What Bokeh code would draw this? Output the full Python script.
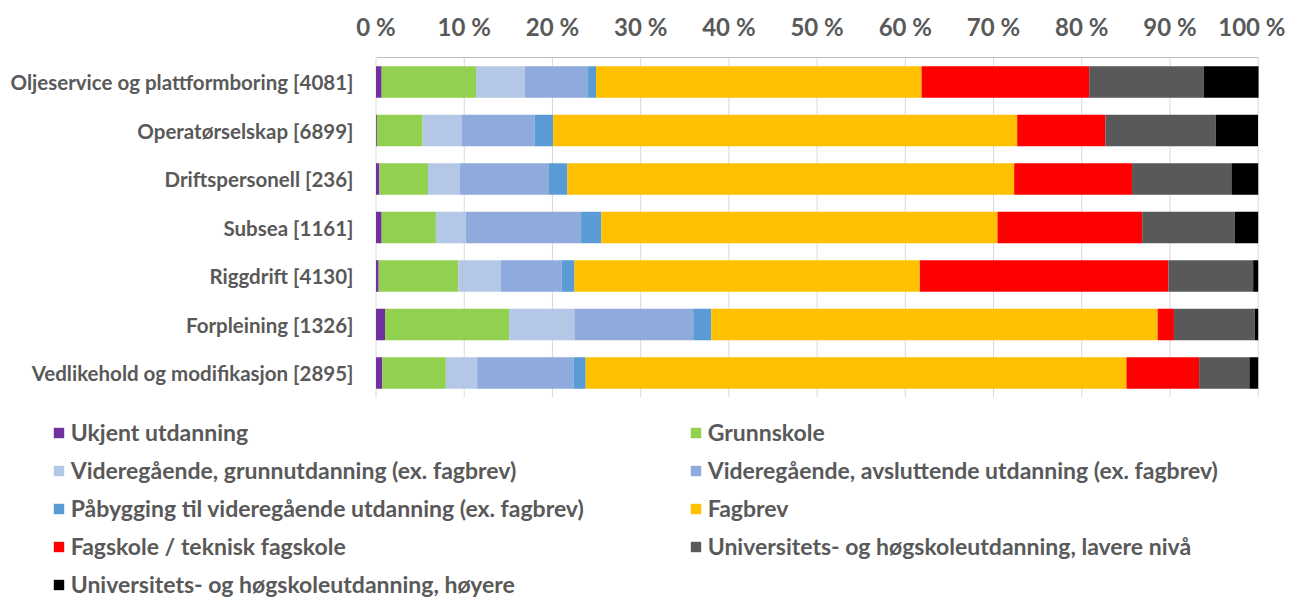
from bokeh.plotting import figure
from bokeh.models import ColumnDataSource, Range1d, FixedTicker, Legend, LegendItem
from bokeh.core.properties import value
from bokeh.embed import file_html
from bokeh.resources import INLINE

categories = [
    "Oljeservice og plattformboring [4081]",
    "Operatørselskap [6899]",
    "Driftspersonell [236]",
    "Subsea [1161]",
    "Riggdrift [4130]",
    "Forpleining [1326]",
    "Vedlikehold og modifikasjon [2895]",
]

series_names = [
    "Ukjent utdanning",
    "Grunnskole",
    "Videregående, grunnutdanning (ex. fagbrev)",
    "Videregående, avsluttende utdanning (ex. fagbrev)",
    "Påbygging til videregående utdanning (ex. fagbrev)",
    "Fagbrev",
    "Fagskole / teknisk fagskole",
    "Universitets- og høgskoleutdanning, lavere nivå",
    "Universitets- og høgskoleutdanning, høyere",
]

ukjent = [0.64, 0.1, 0.38, 0.64, 0.3, 1.02, 0.72]
grunnskole = [10.7, 5.18, 5.51, 6.15, 9.02, 14.07, 7.2]
vgs_grunn = [5.5, 4.42, 3.58, 3.4, 4.79, 7.4, 3.55]
vgs_avsl = [7.2, 8.3, 10.13, 13.06, 6.95, 13.47, 10.91]
pabygging = [0.9, 2.08, 2.1, 2.3, 1.44, 2.04, 1.39]
fagbrev = [36.9, 52.6, 50.64, 44.9, 39.14, 50.6, 61.3]
fagskole = [19.0, 10.0, 13.36, 16.4, 28.19, 1.85, 8.23]
univ_lav = [13.0, 12.5, 11.27, 10.5, 9.6, 9.17, 5.7]
univ_hoy = [6.2, 4.8, 3.03, 2.65, 0.57, 0.38, 1.0]

colors = ["#7030A0", "#92D050", "#B4C7E7", "#8FAADC", "#5B9BD5",
          "#FFC000", "#FF0000", "#595959", "#000000"]

tick_values = [0, 10, 20, 30, 40, 50, 60, 70, 80, 90, 100]
tick_labels = [f"{t} %" for t in tick_values]

FONT = "Lato"
TXT = "#595959"

# ---- layout geometry (pixels) ----
CANVAS_W, CANVAS_H, TOP = 1285, 600, 57
X0_PX, X100_PX = 375.5, 1257.7          # where 0 % and 100 % fall
ROW0_PX, ROW_PITCH = 81.5, 48.5         # centre of first row, row pitch
px_per_pct = (X100_PX - X0_PX) / 100.0
x_start = -X0_PX / px_per_pct
x_end = (CANVAS_W - X0_PX) / px_per_pct
y_top = -(ROW0_PX - TOP) / ROW_PITCH
y_bottom = (CANVAS_H - ROW0_PX) / ROW_PITCH

n = len(categories)
rows = list(range(n))

keys = ["s%d" % i for i in range(9)]
data = {"row": rows, "cat": categories}
for k, vals in zip(keys, [ukjent, grunnskole, vgs_grunn, vgs_avsl, pabygging,
                          fagbrev, fagskole, univ_lav, univ_hoy]):
    data[k] = vals
source = ColumnDataSource(data)

p = figure(frame_width=CANVAS_W, frame_height=CANVAS_H - TOP,
           output_backend="svg", toolbar_location=None,
           x_range=Range1d(x_start, x_end), y_range=Range1d(y_bottom, y_top),
           x_axis_location="above", y_axis_location=None,
           min_border_left=0, min_border_right=0, min_border_top=TOP,
           min_border_bottom=0)
p.outline_line_color = None
p.xgrid.grid_line_color = None
p.ygrid.grid_line_color = None

# vertical gridlines at the axis ticks, spanning the bar area only
p.segment(x0=tick_values, x1=tick_values,
          y0=[-0.5] * len(tick_values), y1=[n - 0.5] * len(tick_values),
          line_color="#d9d9d9", line_width=1)

renderers = p.hbar_stack(keys, y="row", height=0.65, source=source,
                         fill_color=colors, line_color=None)

# category labels
p.text(x=-22.5 / px_per_pct, y="row", text="cat", source=source,
       text_font=value(FONT), text_font_style="bold", text_font_size="20.5px",
       text_color=TXT, text_align="right", text_baseline="middle")

p.xaxis.ticker = FixedTicker(ticks=tick_values)
p.xaxis.bounds = (0, 100)
p.xaxis.major_label_overrides = {t: l for t, l in zip(tick_values, tick_labels)}
p.xaxis.axis_line_color = "#bfbfbf"
p.xaxis.major_tick_line_color = None
p.xaxis.minor_tick_line_color = None
p.xaxis.major_label_text_font = FONT
p.xaxis.major_label_text_font_style = "bold"
p.xaxis.major_label_text_font_size = "24px"
p.xaxis.major_label_text_color = TXT
p.xaxis.major_label_standoff = 11

items = [LegendItem(label=nm, renderers=[r]) for nm, r in zip(series_names, renderers)]
legend = Legend(items=items, orientation="horizontal", ncols=2,
                location=(51.7, 1.8), padding=0, margin=0,
                border_line_color=None, background_fill_alpha=0,
                glyph_width=13, glyph_height=13, label_standoff=6,
                label_width=608, label_height=27, spacing=10,
                label_text_font=FONT, label_text_font_style="bold",
                label_text_font_size="23px", label_text_color=TXT)
p.add_layout(legend, "center")

open("out.html", "w").write(file_html(p, INLINE))
